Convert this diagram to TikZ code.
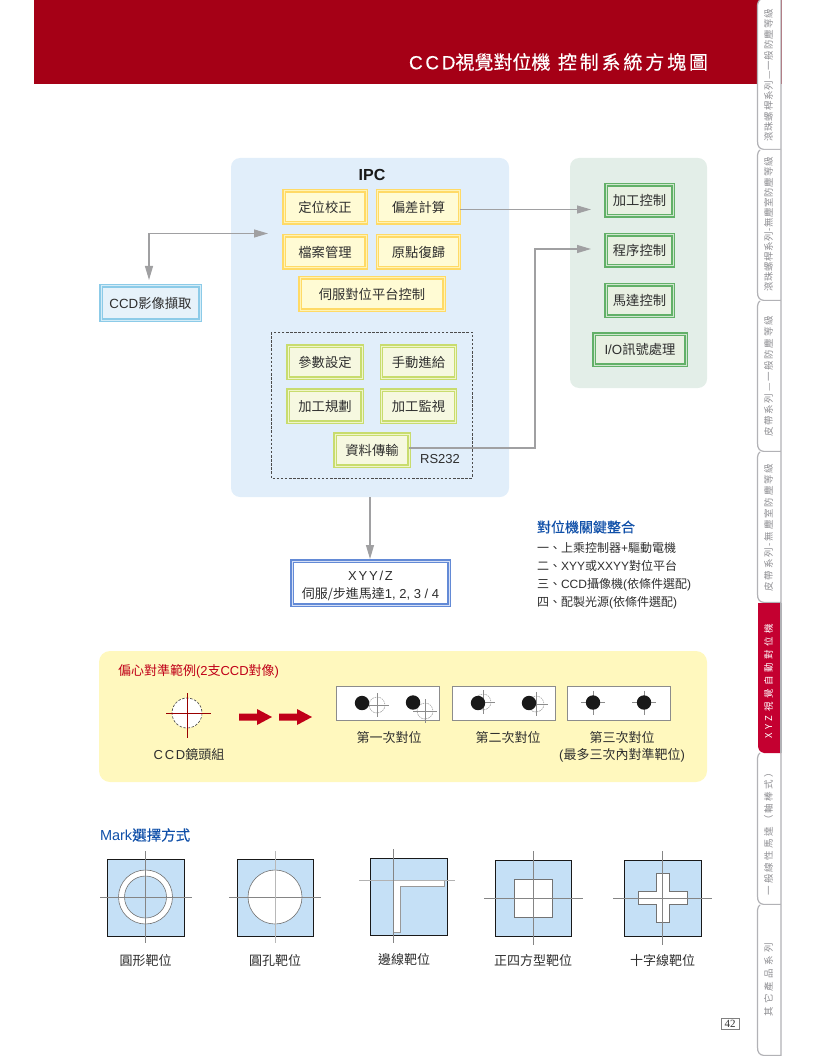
\documentclass[tikz,border=0pt]{standalone}
\usepackage{fontspec}
\usetikzlibrary{arrows.meta}
\setmainfont{Liberation Sans}
\newfontfamily\zhfont{Noto Sans CJK TC}
\newfontfamily\zhmed[FakeBold=0.2]{Noto Sans CJK TC}
\newfontfamily\zhtitlefont[FakeBold=0.25]{Noto Sans CJK TC}
\newfontfamily\zhtitlewide[LetterSpace=15,FakeBold=0.25]{Noto Sans CJK TC}
\newfontfamily\lstitlefont[LetterSpace=14,FakeBold=0.25]{Liberation Sans}
\newfontfamily\lsfont[LetterSpace=14]{Liberation Sans}
\newfontfamily\pgfontfam{Liberation Serif}
\newcommand\zh[1]{{\zhfont #1}}
\newcommand\fsz[1]{\fontsize{#1}{#1}\selectfont}
\definecolor{txt}{HTML}{2E2E2E}
\definecolor{banner}{HTML}{A50016}
\definecolor{tabred}{HTML}{C40030}
\definecolor{tabgray}{HTML}{B2B2B6}
\definecolor{tabtxt}{HTML}{8E8E92}
\definecolor{ipcbg}{HTML}{E1EEFA}
\definecolor{ctlbg}{HTML}{E3EEE8}
\definecolor{ylwbg}{HTML}{FFF8BE}
\definecolor{sqblue}{HTML}{C5E0F6}
\definecolor{titleblue}{HTML}{0F4FA8}
\definecolor{arrowgray}{HTML}{A0A0A2}
\definecolor{arrowred}{HTML}{C00018}
\definecolor{yelline}{HTML}{FFDA66}
\definecolor{yelgap}{HTML}{FFF3B5}
\definecolor{yelfill}{HTML}{FFFBD4}
\definecolor{limline}{HTML}{C8DC6E}
\definecolor{limgap}{HTML}{F0F5C8}
\definecolor{limfill}{HTML}{F6F8E0}
\definecolor{grnline}{HTML}{62B068}
\definecolor{grngap}{HTML}{CFE6CE}
\definecolor{grnfill}{HTML}{E8F0E2}
\definecolor{cyanline}{HTML}{8CCBE8}
\definecolor{cyangap}{HTML}{D4ECF7}
\definecolor{cyanfill}{HTML}{E6F2FA}
\definecolor{bluline}{HTML}{638AD6}
\definecolor{blugap}{HTML}{D6E0F6}
\tikzset{
  x=1pt,y=-1pt,
  every node/.style={text=txt,inner sep=0pt,outer sep=0pt},
  sz/.style 2 args={minimum width=#1pt,minimum height=#2pt},
  dbl/.style 2 args={draw=#1,line width=1.35pt,double=#2,double distance=1pt,rectangle},
  yelbox/.style={dbl={yelline}{yelgap},fill=yelfill,font=\fsz{13.3},sz={82}{32}},
  limbox/.style={dbl={limline}{limgap},fill=limfill,font=\fsz{13.3},sz={74}{32}},
  grnbox/.style={dbl={grnline}{grngap},fill=grnfill,font=\fsz{13.3},sz={67}{31}},
  panel/.style={rounded corners=9pt,draw=none,rectangle},
  conn/.style={draw=arrowgray,line width=1.15pt,-{Triangle[length=14pt,width=8pt,fill=arrowgray]}},
  lab/.style={font=\fsz{13}},
  item/.style={font=\fsz{12},anchor=west},
  cross/.style={draw=black!48,line width=.55pt},
  xsq/.style={fill=sqblue,draw=black!90,line width=1pt},
  inner/.style={fill=white,draw=black!55,line width=.6pt},
  reticle/.pic={
    \draw[black!45,line width=.5pt,dash pattern=on 1.5pt off 1pt,fill=white] (0,0) circle[radius=8];
    \draw[black!45,line width=.5pt] (-12,0) -- (12,0) (0,-12) -- (0,12);
  },
  doton/.pic={
    \draw[black!45,line width=.7pt] (-12,0) -- (12,0) (0,-12) -- (0,12);
    \fill[black!90] (0,0) circle[radius=7.2];
  },
}
\begin{document}
\begin{tikzpicture}
\useasboundingbox (0,0) rectangle (816,1056);
% banner
\fill[banner] (34,0) rectangle (781.7,84);
\node[anchor=west,text=white,font=\fsz{19}] (title) at (409,62) {{\lstitlefont CCD}{\zhtitlefont 視覺對位機}};
\node[anchor=east,text=white,font=\fsz{19}] (title2) at (708,62) {{\zhtitlewide 控制系統方塊圖}};
% side tabs
\foreach \ya/\yb/\yc/\ls/\lbl/\nm in {0/150/75.5/9/滾珠螺桿系列—一般防塵等級/taba,150/301/224.5/6/滾珠螺桿系列-無塵室防塵等級/tabb,301/452/376.5/18/皮帶系列—一般防塵等級/tabc,452/603/527.5/19/皮帶系列-無塵室防塵等級/tabd,753/905/832/24/一般線性馬達（軸棒式）/tabf,905/1056/980/34/其它產品系列/tabg}{
  \draw[tabgray,line width=1.2pt,fill=white] (781,\ya) -- (781,\yb-.5) -- (764,\yb-.5) .. controls (759,\yb-1) and (757.5,\yb-4) .. (757.5,\yb-9) -- (757.5,\ya+5) .. controls (757.5,\ya+2) and (759,\ya+1) .. (760,\ya);
  \node[rotate=90,text=tabtxt,font=\fsz{9.5}] (\nm) at (768.5,\yc) {\zhfont\edef\tmpfeat{\noexpand\addfontfeature{LetterSpace=\ls}}\tmpfeat \lbl};
}
\fill[tabred] (758,603) -- (780.5,603) -- (780.5,753) -- (764,753) .. controls (759,752) and (758,749) .. (758,744) -- cycle;
\node[rotate=90,text=white,font=\fsz{9.5}] (tabe) at (768.5,681) {\zhfont\addfontfeature{LetterSpace=38}XYZ視覺自動對位機};
\draw[tabgray,line width=1.2pt] (781,603) -- (781,753);
% panels
\node[panel,fill=ipcbg,sz={278}{339}] (ipc) at (370,327.5) {};
\node[panel,fill=ctlbg,sz={137}{230}] (ctl) at (638.5,273) {};
\node[font=\bfseries\fsz{16},text=black!90] (ipct) at (372,174.5) {IPC};
% yellow boxes
\node[yelbox] (pos) at (325,207) {\zh{定位校正}};
\node[yelbox] (dev) at (418.5,207) {\zh{偏差計算}};
\node[yelbox] (file) at (325,252) {\zh{檔案管理}};
\node[yelbox] (home) at (418.5,252) {\zh{原點復歸}};
\node[yelbox,sz={144}{32}] (servo) at (372,294) {\zh{伺服對位平台控制}};
% dashed group
\draw[black!70,line width=.6pt,dash pattern=on 2.5pt off 1.6pt] (271,332) rectangle (472,478);
\node[limbox] (param) at (325,362) {\zh{參數設定}};
\node[limbox] (jog) at (418.5,362) {\zh{手動進給}};
\node[limbox] (plan) at (325,406) {\zh{加工規劃}};
\node[limbox] (mon) at (418.5,406) {\zh{加工監視}};
\node[limbox] (xfer) at (372,450) {\zh{資料傳輸}};
\node[font=\fsz{13}] (rs) at (440,459) {RS232};
% right boxes
\node[grnbox] (mach) at (639.5,200.5) {\zh{加工控制}};
\node[grnbox] (prog) at (639.5,250.5) {\zh{程序控制}};
\node[grnbox] (motor) at (639.5,300.5) {\zh{馬達控制}};
\node[grnbox,sz={92}{31}] (io) at (640,349.5) {I/O\zh{訊號處理}};
% ccd + xyz
\node[dbl={cyanline}{cyangap},fill=cyanfill,sz={99}{34},font=\fsz{13.3}] (ccd) at (150.5,303) {CCD\zh{影像擷取}};
\node[dbl={bluline}{blugap},fill=white,sz={157}{44},font=\fsz{13},align=center] (xyz) at (370.5,583) {\rule{0pt}{15pt}{\lsfont XYY/Z}\\[5pt]\zh{伺服/步進馬達}1, 2, 3 / 4};
% connectors
\coordinate (ipcin) at (268,233.5);
\coordinate (tipa) at (591,209.5);
\coordinate (tipb) at (591,249);
\coordinate (bend) at (535,249);
\draw[conn,{Triangle[length=14pt,width=8pt,fill=arrowgray]}-{Triangle[length=14pt,width=8pt,fill=arrowgray]},shorten >=6pt] (ipcin) -| ([xshift=-1.5pt]ccd.north);
\draw[conn] ([yshift=-2.5pt]dev.east) -- (tipa);
\draw[conn] ([yshift=2pt]xfer.east) -| (bend) -- (tipb);
\draw[conn,shorten >=2pt] (ipc.south) -- (ipc.south |- xyz.north);
% key list
\node[anchor=west,text=titleblue,font=\fsz{14}] (kt) at (537,527) {{\zhmed 對位機關鍵整合}};
\node[item] (k1) at (537,548) {\zh{一、上乘控制器}+\zh{驅動電機}};
\node[item] (k2) at (537,566) {\zh{二、}XYY\zh{或}XXYY\zh{對位平台}};
\node[item] (k3) at (537,584.5) {\zh{三、}CCD\zh{攝像機}(\zh{依條件選配})};
\node[item] (k4) at (537,603) {\zh{四、配製光源}(\zh{依條件選配})};
% yellow panel
\node[panel,rounded corners=11pt,fill=ylwbg,sz={608}{131}] (ybg) at (403,716.5) {};
\node[anchor=west,text=arrowred,font=\fsz{13}] (yt) at (118,671) {\zh{偏心對準範例}(2\zh{支}CCD\zh{對像})};
\fill[white] (187,713) circle[radius=15];
\draw[black!75,line width=.6pt,dash pattern=on 2.5pt off 1.6pt] (187,713) circle[radius=15];
\draw[red!60!black,line width=.6pt] (166,713) -- (211,713) (187,693) -- (187,738);
\node[font=\fsz{13}] (lens) at (189,755) {{\lsfont CCD}\zh{鏡頭組}};
\fill[arrowred] (239,713.5) -- (257,713.5) -- (257,709) -- (272,717) -- (257,725) -- (257,720.5) -- (239,720.5) -- cycle;
\fill[arrowred] (279,713.5) -- (297,713.5) -- (297,709) -- (312,717) -- (297,725) -- (297,720.5) -- (279,720.5) -- cycle;
\foreach \xa in {336,452,567}{\draw[fill=white,draw=black!45,line width=.9pt] (\xa,686) rectangle ++(103,34);}
\pic at (377,705) {reticle};
\fill[black!90] (362,703) circle[radius=7.2];
\pic at (425,711) {reticle};
\fill[black!90] (413,702.5) circle[radius=7.2];
\pic at (483,702) {reticle};
\fill[black!90] (478,703) circle[radius=7.2];
\pic at (536,704) {reticle};
\fill[black!90] (529,703) circle[radius=7.2];
\pic at (593,702.5) {doton};
\pic at (644,702.5) {doton};
\node[lab] (s1) at (389,738) {\zh{第一次對位}};
\node[lab] (s2) at (508,738) {\zh{第二次對位}};
\node[lab] (s3) at (622,738) {\zh{第三次對位}};
\node[lab] (s4) at (622,755) {(\zh{最多三次內對準靶位})};
% mark section
\node[anchor=west,text=titleblue,font=\fsz{14.5}] (mt) at (100,835) {Mark{\zhmed 選擇方式}};
% circle
\draw[xsq] (107,859) rectangle (184,936);
\draw[inner] (145.5,897) circle[radius=27];
\draw[inner,fill=sqblue] (145.5,897) circle[radius=21];
\draw[cross] (100,897) -- (192,897) (145.5,851) -- (145.5,943);
% hole
\draw[xsq] (237,859) rectangle (313,936);
\draw[inner] (275,897) circle[radius=27];
\draw[cross] (229,897) -- (321,897);
\draw[black!28,line width=1pt] (275,851) -- (275,943);
% edge
\draw[xsq] (370,858) rectangle (447,935);
\draw[fill=white,draw=black!40,line width=.8pt] (393,880) -- (444,880) -- (444,886) -- (400,886) -- (400,932) -- (393,932) -- cycle;
\draw[black!30,line width=.9pt] (359,880) -- (455,880);
\draw[cross] (393,849) -- (393,943);
% square
\draw[xsq] (495,860) rectangle (571,936);
\draw[inner] (514,879) rectangle (552,917);
\draw[cross] (484,898) -- (583,898) (533,851) -- (533,945);
% cross
\draw[xsq] (624,860) rectangle (701,936);
\draw[inner] (656,873) -- (669,873) -- (669,891) -- (687.5,891) -- (687.5,904) -- (669,904) -- (669,922.5) -- (656,922.5) -- (656,904) -- (638,904) -- (638,891) -- (656,891) -- cycle;
\draw[cross] (613,898) -- (712,898) (662.5,851) -- (662.5,945);
\node[lab] (m1) at (145.5,961) {\zh{圓形靶位}};
\node[lab] (m2) at (275,961) {\zh{圓孔靶位}};
\node[lab] (m3) at (404,960) {\zh{邊線靶位}};
\node[lab] (m4) at (533,961) {\zh{正四方型靶位}};
\node[lab] (m5) at (662.5,961) {\zh{十字線靶位}};
% page number
\node[draw=black!50,line width=.6pt,sz={18}{11},font=\pgfontfam\fsz{11}] (pg) at (730,1023.5) {42};
\end{tikzpicture}
\end{document}
